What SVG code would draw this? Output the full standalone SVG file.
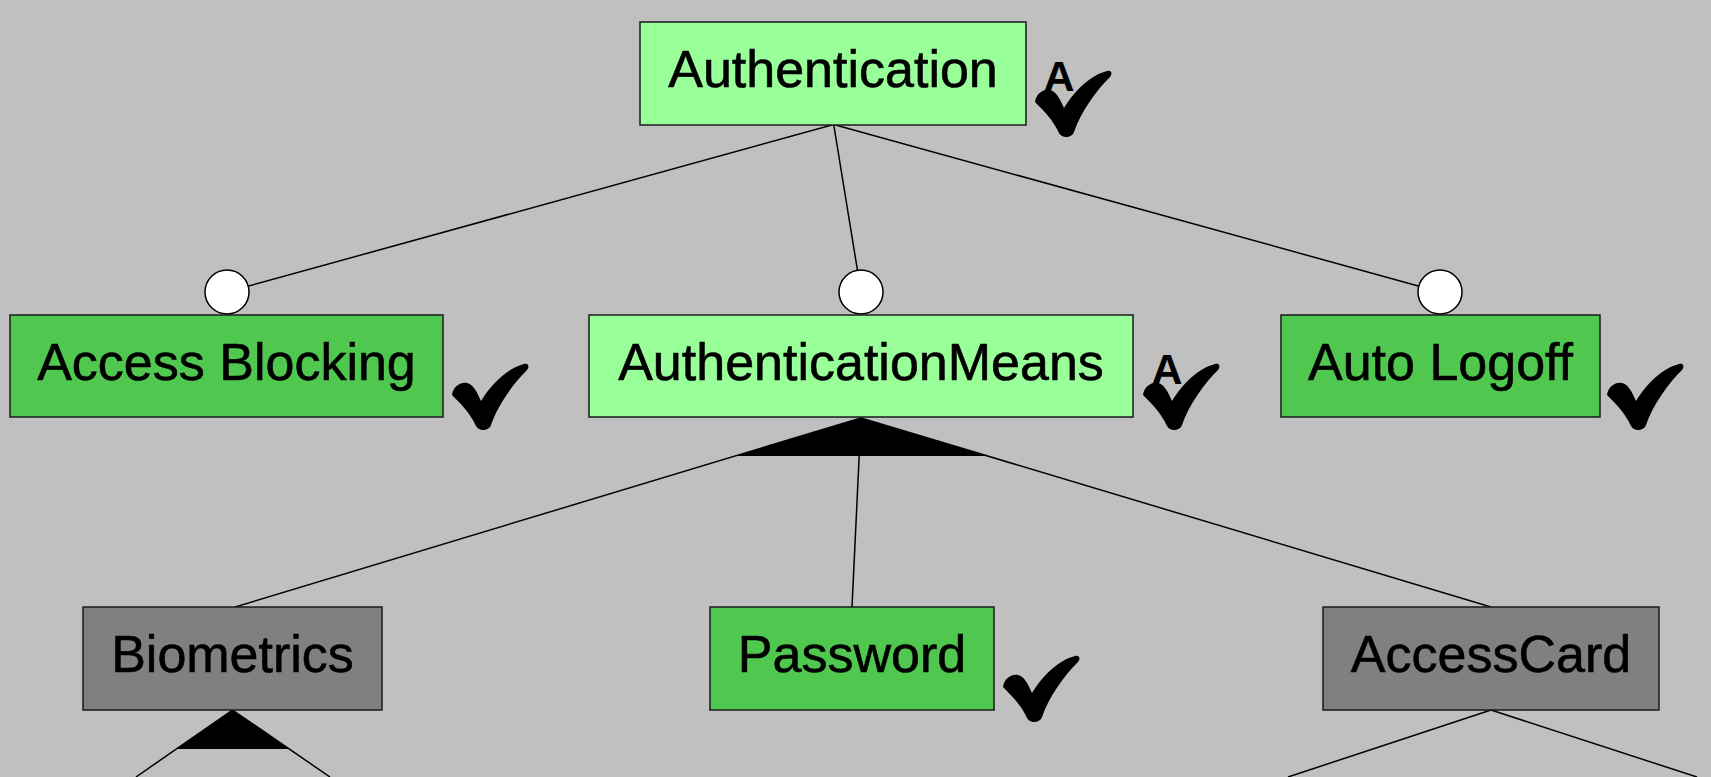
<svg xmlns="http://www.w3.org/2000/svg" width="1711" height="777" viewBox="0 0 1711 777">
<style>
.box{stroke:#1a1a1a;stroke-width:1.5}
.abs{fill:#99FF99}
.con{fill:#50C850}
.off{fill:#808080}
.lbl{font-family:"Liberation Sans",Arial,sans-serif;font-size:52px;fill:#000;stroke:#000;stroke-width:0.6;text-anchor:middle}
.auto{font-family:"Liberation Sans",Arial,sans-serif;font-size:43px;font-weight:bold;fill:#000;text-anchor:middle}
.edge{stroke:#000;stroke-width:1.5;fill:none}
.opt{fill:#fff;stroke:#000;stroke-width:1.5}
</style>
<defs>
<path id="chk" d="M0,32 C1,24 8,19 15,20 C21,21 25,29 29,38 C40,20 56,5 72,1 C76,0 78,3 75,7 C60,22 46,42 39,62 C37,68 27,69 24,63 C18,50 9,41 0,32 Z" fill="#000"/>
</defs>
<rect width="1711" height="777" fill="#C0C0C0"/>
<g id="connectors">
<line class="edge" x1="833.7" y1="124.5" x2="227" y2="292"/>
<line class="edge" x1="833.7" y1="124.5" x2="861" y2="292"/>
<line class="edge" x1="833.7" y1="124.5" x2="1440" y2="292"/>
<circle class="opt" cx="227" cy="292" r="22"/>
<circle class="opt" cx="861" cy="292" r="22"/>
<circle class="opt" cx="1440" cy="292" r="22"/>
<line class="edge" x1="861" y1="418" x2="235" y2="607"/>
<line class="edge" x1="861" y1="418" x2="852" y2="607"/>
<line class="edge" x1="861" y1="418" x2="1491" y2="607"/>
<polygon points="861,418 735,456 988,456" fill="#000"/>
<line class="edge" x1="232.5" y1="710" x2="136" y2="777"/>
<line class="edge" x1="232.5" y1="710" x2="330" y2="777"/>
<polygon points="232.5,710 176.3,749 289.2,749" fill="#000"/>
<line class="edge" x1="1491" y1="710" x2="1288" y2="777"/>
<line class="edge" x1="1491" y1="710" x2="1697" y2="777"/>
</g>
<g id="authentication">
<rect class="box abs" x="640" y="22" width="386" height="103"/>
<text class="lbl" x="833" y="87">Authentication</text>
<use href="#chk" x="1035" y="70"/>
<text class="auto" x="1059" y="91">A</text>
</g>
<g id="access-blocking">
<rect class="box con" x="10" y="315" width="433" height="102"/>
<text class="lbl" x="226.5" y="380">Access Blocking</text>
<use href="#chk" x="452" y="363"/>
</g>
<g id="authentication-means">
<rect class="box abs" x="589" y="315" width="544" height="102"/>
<text class="lbl" x="861" y="380">AuthenticationMeans</text>
<use href="#chk" x="1143" y="363"/>
<text class="auto" x="1167" y="384">A</text>
</g>
<g id="auto-logoff">
<rect class="box con" x="1281" y="315" width="319" height="102"/>
<text class="lbl" x="1440.5" y="380">Auto Logoff</text>
<use href="#chk" x="1607" y="363"/>
</g>
<g id="biometrics">
<rect class="box off" x="83" y="607" width="299" height="103"/>
<text class="lbl" x="232.5" y="672">Biometrics</text>
</g>
<g id="password">
<rect class="box con" x="710" y="607" width="284" height="103"/>
<text class="lbl" x="852" y="672">Password</text>
<use href="#chk" x="1003" y="655"/>
</g>
<g id="access-card">
<rect class="box off" x="1323" y="607" width="336" height="103"/>
<text class="lbl" x="1491" y="672">AccessCard</text>
</g>
</svg>
